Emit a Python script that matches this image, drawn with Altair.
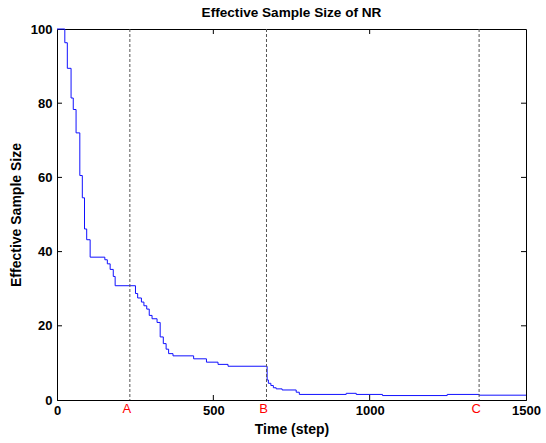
import altair as alt
import pandas as pd

# Step curve (time step, effective sample size)
steps = [0, 25, 33, 45, 52, 61, 73, 81, 88, 95, 106, 153, 161, 170, 180, 186,
         251, 258, 270, 278, 287, 295, 304, 320, 330, 340, 349, 357, 371, 437,
         478, 515, 547, 672, 676, 684, 692, 701, 720, 765, 775, 925, 957, 1041,
         1248, 1350, 1500]
ess = [100, 96.3, 89.4, 81.4, 78.3, 72.0, 60.5, 54.5, 46.1, 43.2, 38.5, 37.8,
       36.7, 35.2, 33.3, 30.8, 28.7, 27.5, 26.4, 25.4, 24.5, 22.8, 21.9, 20.9,
       17.0, 15.2, 13.7, 12.5, 11.9, 11.1, 10.2, 9.6, 9.1, 5.4, 4.5, 3.9, 3.3,
       3.0, 2.7, 2.1, 1.5, 1.8, 1.5, 1.2, 1.5, 1.3, 1.3]

marker_names = ["A", "B", "C"]
marker_steps = [233, 670, 1350]

x_ticks = [0, 500, 1000, 1500]
y_ticks = [0, 20, 40, 60, 80, 100]
x_inner_ticks = [500, 1000]
y_inner_ticks = [20, 40, 60, 80]

W, H = 469, 371
FONT = "Liberation Sans"

df = pd.DataFrame({"step": steps, "ess": ess})
mk = pd.DataFrame({"name": marker_names, "step": marker_steps})
xt = pd.DataFrame({"v": x_inner_ticks})
yt = pd.DataFrame({"v": y_inner_ticks})

xscale = alt.Scale(domain=[0, 1500], nice=False, zero=False)
yscale = alt.Scale(domain=[0, 100], nice=False)

line = alt.Chart(df).mark_line(
    interpolate="step-after", color="#1010ff", strokeWidth=1
).encode(
    x=alt.X("step:Q", scale=xscale,
            axis=alt.Axis(values=x_ticks, title="Time (step)", grid=False,
                          tickSize=0, labelPadding=4, titlePadding=5,
                          labelFlush=False, labelOverlap=False,
                          format="d")),
    y=alt.Y("ess:Q", scale=yscale,
            axis=alt.Axis(values=y_ticks, title="Effective Sample Size",
                          grid=False, tickSize=0, labelPadding=5,
                          labelFlush=False, labelOverlap=False,
                          titlePadding=7, format="d")),
)

rules = alt.Chart(mk).mark_rule(
    color="#555555", strokeDash=[3, 2], strokeWidth=1
).encode(x=alt.X("step:Q", scale=xscale))

labels = alt.Chart(mk).mark_text(
    color="#ff0000", font=FONT, fontSize=13, baseline="top", dx=-3
).encode(x=alt.X("step:Q", scale=xscale), y=alt.value(H + 3),
         text="name:N")

bt = alt.Chart(xt).mark_rule(color="#000000").encode(
    x=alt.X("v:Q", scale=xscale), y=alt.value(H), y2=alt.value(H - 5))
tt = alt.Chart(xt).mark_rule(color="#000000").encode(
    x=alt.X("v:Q", scale=xscale), y=alt.value(0), y2=alt.value(5))
lt = alt.Chart(yt).mark_rule(color="#000000").encode(
    y=alt.Y("v:Q", scale=yscale), x=alt.value(0), x2=alt.value(5))
rt = alt.Chart(yt).mark_rule(color="#000000").encode(
    y=alt.Y("v:Q", scale=yscale), x=alt.value(W - 5), x2=alt.value(W))

chart = alt.layer(line, rules, labels, bt, tt, lt, rt).properties(
    width=W, height=H,
    title=alt.Title("Effective Sample Size of NR", font=FONT, fontSize=13.6,
                    fontWeight="bold", color="#000000", offset=3),
    autosize=alt.AutoSizeParams(type="none"),
    padding={"left": 57, "top": 29, "right": 20, "bottom": 43},
).configure_view(
    stroke="#000000", strokeWidth=1
).configure_axis(
    labelFont=FONT, titleFont=FONT, labelFontSize=13, titleFontSize=14,
    labelColor="#000000", titleColor="#000000", labelFontWeight="bold",
    titleFontWeight="bold", domainColor="#000000", domainWidth=1,
)

chart.save("out.html", embed_options={"renderer": "svg", "actions": False})
